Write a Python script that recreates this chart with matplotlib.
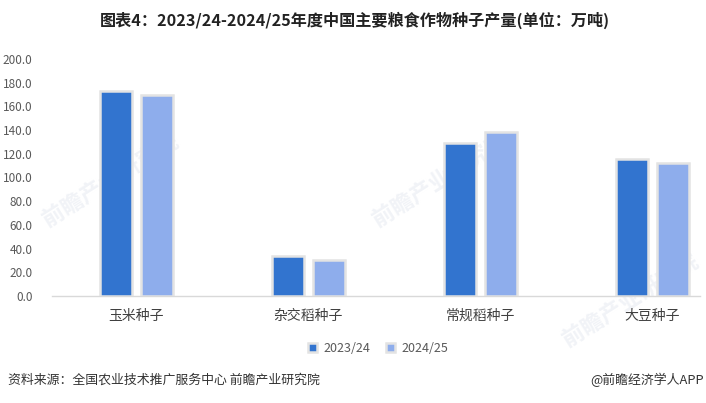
import matplotlib
matplotlib.use("Agg")
import matplotlib.pyplot as plt
import numpy as np

plt.rcParams['font.family'] = ['Noto Sans CJK SC', 'DejaVu Sans']

categories = ['玉米种子', '杂交稻种子', '常规稻种子', '大豆种子']
series_names = ['2023/24', '2024/25']
values_2324 = [173.0, 33.8, 129.0, 115.5]
values_2425 = [170.0, 30.2, 138.5, 112.0]
yticks = [0, 20, 40, 60, 80, 100, 120, 140, 160, 180, 200]

title = '图表4：2023/24-2024/25年度中国主要粮食作物种子产量(单位：万吨)'
source = '资料来源：全国农业技术推广服务中心 前瞻产业研究院'
brand = '@前瞻经济学人APP'

dark = '#3274cf'
light = '#8eadec'
edge = '#e3e3e3'

W, H = 706, 403
fig = plt.figure(figsize=(W / 100, H / 100), dpi=100)

# axes placed in pixel terms
left, right, top, bottom = 52, 700, 59, 296
ax = fig.add_axes([left / W, 1 - bottom / H, (right - left) / W, (bottom - top) / H])

x = np.arange(len(categories))
bw = 0.186
off = 0.119
ax.bar(x - off, values_2324, width=bw, color=dark, edgecolor=edge, linewidth=1.8,
       label=series_names[0], zorder=3)
ax.bar(x + off, values_2425, width=bw, color=light, edgecolor=edge, linewidth=1.8,
       label=series_names[1], zorder=3)

ax.set_xlim(-0.49, 3.276)
ax.set_ylim(0, 200)
ax.set_yticks(yticks)
ax.set_yticklabels([f'{v:.1f}' for v in yticks], fontsize=8.5, color='#595959')
ax.set_xticks(x)
ax.set_xticklabels(categories, fontsize=10, color='#404040')
ax.tick_params(axis='both', length=0)
ax.tick_params(axis='y', pad=14)
ax.tick_params(axis='x', pad=9)
for s in ['top', 'right', 'left']:
    ax.spines[s].set_visible(False)
ax.spines['bottom'].set_color('#d9d9d9')
ax.spines['bottom'].set_linewidth(1.0)
ax.spines['bottom'].set_clip_on(False)

# faint watermark behind the bars
for wx, wy in [(110, 180), (440, 180), (630, 300)]:
    fig.text(wx / W, 1 - wy / H, '前瞻产业研究院', fontsize=16, color='#f1f3f7',
             rotation=32, ha='center', va='center', fontweight='bold', zorder=-1)
ax.patch.set_alpha(0)

leg = fig.legend(loc='center', bbox_to_anchor=(378 / W, 1 - 348 / H), ncol=2,
                 frameon=False, fontsize=9, handlelength=0.7, handleheight=0.7,
                 handletextpad=0.5, columnspacing=1.3)
for t in leg.get_texts():
    t.set_color('#595959')

fig.text(355 / W, 1 - 20 / H, title, fontsize=11.6, fontweight='bold', color='#222222',
         ha='center', va='center')
fig.text(8 / W, 1 - 380 / H, source, fontsize=9.3, color='#333333', ha='left', va='center')
fig.text(704 / W, 1 - 380 / H, brand, fontsize=9.3, color='#333333', ha='right', va='center')

fig.savefig('out.png', dpi=100)
